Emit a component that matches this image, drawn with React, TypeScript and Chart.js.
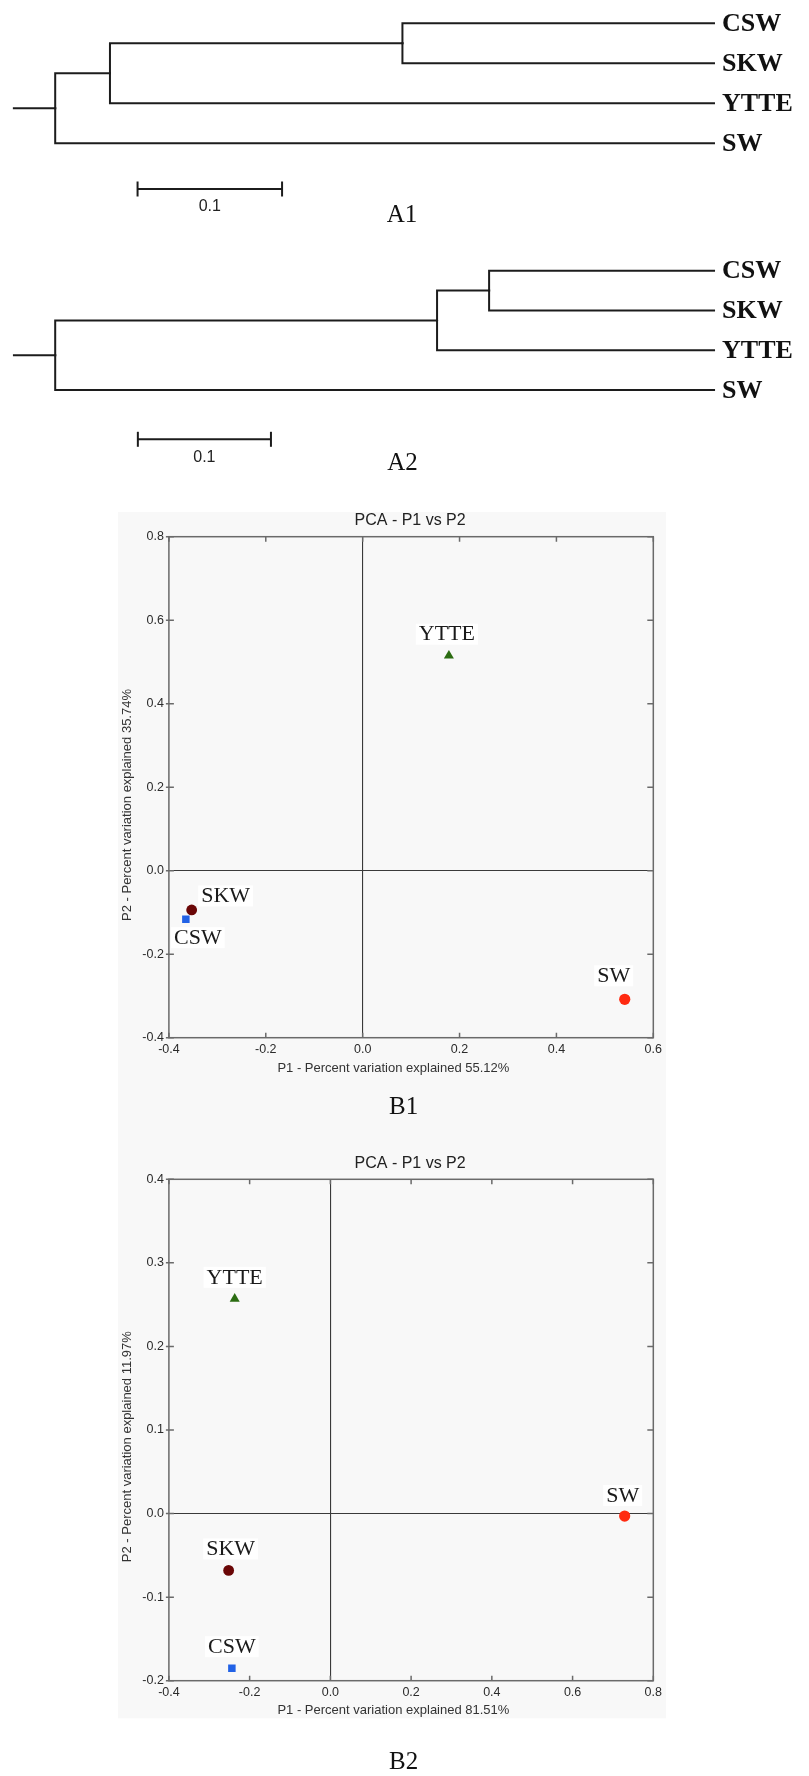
import React, { useEffect, useRef } from 'react';
import { Chart, registerables } from 'chart.js';

Chart.register(...registerables);

// ---------------- Data ----------------
// Dendrogram leaves (top to bottom) and merge order: (CSW,SKW) -> +YTTE -> +SW
const LEAVES = ['CSW', 'SKW', 'YTTE', 'SW'];
const MERGE_PAIRS: number[][] = [[0, 1], [4, 2], [5, 3]];
// depth of each merge node measured from the root (tree distance units)
const A1_MERGE_DEPTHS = [0.2403, 0.0379, 0];
const A1_LEAF_DEPTH = 0.4559;
const A2_MERGE_DEPTHS = [0.326, 0.2869, 0];
const A2_LEAF_DEPTH = 0.495;
const SCALE_BAR = 0.1;
const SCALE_BAR_TEXT = '0.1';

// PCA samples
const SAMPLES = ['YTTE', 'SKW', 'CSW', 'SW'];
const B1_PC1 = [0.178, -0.353, -0.365, 0.541];
const B1_PC2 = [0.515, -0.094, -0.116, -0.308];
const B2_PC1 = [-0.237, -0.252, -0.244, 0.729];
const B2_PC2 = [0.257, -0.068, -0.185, -0.003];
const B1_X_TICKS = ['-0.4', '-0.2', '0.0', '0.2', '0.4', '0.6'];
const B1_Y_TICKS = ['-0.4', '-0.2', '0.0', '0.2', '0.4', '0.6', '0.8'];
const B2_X_TICKS = ['-0.4', '-0.2', '0.0', '0.2', '0.4', '0.6', '0.8'];
const B2_Y_TICKS = ['-0.2', '-0.1', '0.0', '0.1', '0.2', '0.3', '0.4'];
const PCA_TITLE = 'PCA - P1 vs P2';
const B1_X_TITLE = 'P1 - Percent variation explained 55.12%';
const B1_Y_TITLE = 'P2 - Percent variation explained 35.74%';
const B2_X_TITLE = 'P1 - Percent variation explained 81.51%';
const B2_Y_TITLE = 'P2 - Percent variation explained 11.97%';

// ---------------- Styles / layout ----------------
const SERIF = '"Liberation Serif", "Times New Roman", serif';
const SANS = '"Liberation Sans", Arial, sans-serif';
const TREE_COLOR = '#1c1c1c';
const SAMPLE_STYLE: Record<string, { shape: string; color: string; r: number }> = {
  YTTE: { shape: 'triangle', color: '#2b6c12', r: 5.8 },
  SKW: { shape: 'circle', color: '#6a0606', r: 5.4 },
  CSW: { shape: 'rect', color: '#2262e6', r: 5.3 },
  SW: { shape: 'circle', color: '#ff2a10', r: 5.6 },
};
const B1_LABEL_OFFSETS = [[-2, -22], [34, -14.5], [12, 18], [-11, -24]];
const B2_LABEL_OFFSETS = [[0, -22], [2, -22], [0, -22], [-2, -21]];
const LEAF_LABEL_GAP = 8;

type TreeSpec = {
  depths: number[]; leafDepth: number; stub: number;
  xMin: number; xMax: number; yMin: number; yMax: number;
  barX: number; barY: number; panel: string; panelX: number; panelY: number;
};

const A1_SPEC: TreeSpec = {
  depths: A1_MERGE_DEPTHS, leafDepth: A1_LEAF_DEPTH, stub: -0.0286,
  xMin: -0.0382, xMax: -0.0382 + 809 / 1445, yMin: -0.5825, yMax: -0.5825 + 240 / 40,
  barX: 0.057, barY: 4.1425, panel: 'A1', panelX: 402, panelY: 215,
};
const A2_SPEC: TreeSpec = {
  depths: A2_MERGE_DEPTHS, leafDepth: A2_LEAF_DEPTH, stub: -0.031,
  xMin: -0.04147, xMax: -0.04147 + 809 / 1331, yMin: -0.7714, yMax: -0.7714 + 245 / 39.8,
  barX: 0.0621, barY: 4.236, panel: 'A2', panelX: 402.5, panelY: 223,
};

function treeConfig(s: TreeSpec): any {
  const n = LEAVES.length;
  const xs: number[] = [];
  const ys: number[] = [];
  const parent: number[] = [];
  LEAVES.forEach((_, i) => { xs[i] = s.leafDepth; ys[i] = i; });
  MERGE_PAIRS.forEach(([a, b], k) => {
    const id = n + k;
    xs[id] = s.depths[k];
    ys[id] = (ys[a] + ys[b]) / 2;
    parent[a] = id;
    parent[b] = id;
  });
  const rootId = n + MERGE_PAIRS.length - 1;
  const datasets: any[] = [];
  for (let id = 0; id <= rootId; id++) {
    let data;
    if (id === rootId) {
      data = [{ x: s.stub, y: ys[id] }, { x: xs[id], y: ys[id] }];
    } else {
      const p = parent[id];
      data = [{ x: xs[p], y: ys[p] }, { x: xs[p], y: ys[id] }, { x: xs[id], y: ys[id] }];
    }
    datasets.push({
      data, showLine: true, pointRadius: 0, borderColor: TREE_COLOR, borderWidth: 2,
      tension: 0, fill: false, borderCapStyle: 'square', borderJoinStyle: 'miter',
    });
  }
  datasets.push({
    data: [{ x: s.barX, y: s.barY }, { x: s.barX + SCALE_BAR, y: s.barY }],
    showLine: true, borderColor: TREE_COLOR, borderWidth: 2,
    pointStyle: 'line', pointRotation: 90, pointRadius: 7.5, pointHoverRadius: 7.5,
    pointBorderWidth: 2, pointBorderColor: TREE_COLOR, pointBackgroundColor: TREE_COLOR,
  });

  const labelPlugin = {
    id: 'treeLabels',
    afterDatasetsDraw(chart: any) {
      const ctx = chart.ctx;
      const X = chart.scales.x, Y = chart.scales.y;
      ctx.save();
      ctx.fillStyle = '#111';
      ctx.textBaseline = 'middle';
      ctx.textAlign = 'left';
      ctx.font = `bold 26px ${SERIF}`;
      LEAVES.forEach((name, i) => {
        ctx.fillText(name, X.getPixelForValue(s.leafDepth) + LEAF_LABEL_GAP, Y.getPixelForValue(i) + 1);
      });
      ctx.textAlign = 'center';
      ctx.font = `16px ${SANS}`;
      ctx.fillStyle = '#222';
      ctx.fillText(SCALE_BAR_TEXT, X.getPixelForValue(s.barX + SCALE_BAR / 2), Y.getPixelForValue(s.barY) + 18);
      ctx.font = `25px ${SERIF}`;
      ctx.fillStyle = '#111';
      ctx.fillText(s.panel, s.panelX, s.panelY);
      ctx.restore();
    },
  };

  return {
    type: 'scatter',
    data: { datasets },
    options: {
      responsive: false, animation: false, devicePixelRatio: 1,
      layout: { padding: 0, autoPadding: false },
      plugins: { legend: { display: false }, tooltip: { enabled: false }, title: { display: false } },
      events: [],
      scales: {
        x: { type: 'linear', display: false, min: s.xMin, max: s.xMax },
        y: { type: 'linear', display: false, min: s.yMin, max: s.yMax, reverse: true },
      },
    },
    plugins: [labelPlugin],
  };
}

type PcaSpec = {
  pc1: number[]; pc2: number[]; xTicks: string[]; yTicks: string[];
  xTitle: string; yTitle: string; panel: string; offsets: number[][];
  W: number; H: number; panelH: number;
  area: { left: number; top: number; right: number; bottom: number };
  titleY: number; xTitleX: number; xTitleY: number; yTitleX: number; yTitleY: number;
  panelX: number; panelY: number;
};

const B1_SPEC: PcaSpec = {
  pc1: B1_PC1, pc2: B1_PC2, xTicks: B1_X_TICKS, yTicks: B1_Y_TICKS,
  xTitle: B1_X_TITLE, yTitle: B1_Y_TITLE, panel: 'B1', offsets: B1_LABEL_OFFSETS,
  W: 548, H: 604, panelH: 604,
  area: { left: 50.9, top: 24.7, right: 537.4, bottom: 525.7 },
  titleY: 8.7, xTitleX: 275.4, xTitleY: 556.3, yTitleX: 9, yTitleY: 293,
  panelX: 285.6, panelY: 595,
};
const B2_SPEC: PcaSpec = {
  pc1: B2_PC1, pc2: B2_PC2, xTicks: B2_X_TICKS, yTicks: B2_Y_TICKS,
  xTitle: B2_X_TITLE, yTitle: B2_Y_TITLE, panel: 'B2', offsets: B2_LABEL_OFFSETS,
  W: 548, H: 660, panelH: 602.3,
  area: { left: 50.9, top: 63.3, right: 537.4, bottom: 564.7 },
  titleY: 47.3, xTitleX: 275.4, xTitleY: 594.7, yTitleX: 9, yTitleY: 330.7,
  panelX: 285.6, panelY: 646.7,
};

function tickText(labels: string[], v: number) {
  const hit = labels.find((l) => Math.abs(parseFloat(l) - v) < 1e-6);
  return hit !== undefined ? hit : '';
}

function pcaConfig(s: PcaSpec): any {
  const xv = s.xTicks.map(parseFloat);
  const yv = s.yTicks.map(parseFloat);
  const zeroColor = (c: any) => (Math.abs(c.tick.value) < 1e-9 ? '#3a3a3a' : 'rgba(0,0,0,0)');

  const datasets = SAMPLES.map((name, i) => {
    const st = SAMPLE_STYLE[name];
    return {
      label: name,
      data: [{ x: s.pc1[i], y: s.pc2[i] }],
      pointStyle: st.shape, pointRadius: st.r, pointHoverRadius: st.r,
      backgroundColor: st.color, borderColor: st.color, pointBorderWidth: 0,
    };
  });

  const deco = {
    id: 'pcaDeco',
    beforeDraw(chart: any) {
      const ctx = chart.ctx;
      ctx.save();
      ctx.fillStyle = '#f8f8f8';
      ctx.fillRect(0, 0, s.W, s.panelH);
      ctx.restore();
    },
    afterDatasetsDraw(chart: any) {
      const ctx = chart.ctx;
      const { left, top, right, bottom } = chart.chartArea;
      const X = chart.scales.x, Y = chart.scales.y;
      ctx.save();
      // frame + inward ticks
      ctx.strokeStyle = '#6a6a6a';
      ctx.lineWidth = 1.5;
      ctx.beginPath();
      X.ticks.forEach((t: any) => {
        const px = X.getPixelForValue(t.value);
        ctx.moveTo(px, top); ctx.lineTo(px, top + 5);
        ctx.moveTo(px, bottom); ctx.lineTo(px, bottom - 5);
      });
      Y.ticks.forEach((t: any) => {
        const py = Y.getPixelForValue(t.value);
        ctx.moveTo(left - 3, py); ctx.lineTo(left + 5, py);
        ctx.moveTo(right, py); ctx.lineTo(right - 6, py);
      });
      ctx.stroke();
      ctx.strokeRect(left, top, right - left, bottom - top);

      // point labels
      ctx.font = `22px ${SERIF}`;
      ctx.textAlign = 'center';
      ctx.textBaseline = 'middle';
      SAMPLES.forEach((name, i) => {
        const el = chart.getDatasetMeta(i).data[0];
        const lx = el.x + s.offsets[i][0];
        const ly = el.y + s.offsets[i][1];
        const w = ctx.measureText(name).width;
        ctx.fillStyle = '#ffffff';
        ctx.fillRect(lx - w / 2 - 3, ly - 10, w + 6, 21);
        ctx.fillStyle = '#1a1a1a';
        ctx.fillText(name, lx, ly + 1);
      });

      // titles
      ctx.fillStyle = '#222';
      ctx.font = `16px ${SANS}`;
      ctx.fillText(PCA_TITLE, (left + right) / 2 - 1, s.titleY);
      ctx.font = `13px ${SANS}`;
      ctx.fillStyle = '#333';
      ctx.fillText(s.xTitle, s.xTitleX, s.xTitleY);
      ctx.save();
      ctx.translate(s.yTitleX, s.yTitleY);
      ctx.rotate(-Math.PI / 2);
      ctx.fillText(s.yTitle, 0, 0);
      ctx.restore();
      ctx.font = `25px ${SERIF}`;
      ctx.fillStyle = '#111';
      ctx.fillText(s.panel, s.panelX, s.panelY);
      ctx.restore();
    },
  };

  return {
    type: 'scatter',
    data: { datasets },
    options: {
      responsive: false, animation: false, devicePixelRatio: 1, events: [],
      layout: { padding: { left: 0, top: s.area.top, right: s.W - s.area.right, bottom: 0 }, autoPadding: false },
      plugins: { legend: { display: false }, tooltip: { enabled: false }, title: { display: false } },
      scales: {
        x: {
          type: 'linear', min: xv[0], max: xv[xv.length - 1],
          ticks: {
            stepSize: xv[1] - xv[0], autoSkip: false, maxRotation: 0, padding: 4,
            color: '#2b2b2b', font: { family: SANS, size: 12.5 },
            callback: (v: any) => tickText(s.xTicks, Number(v)),
          },
          grid: { drawTicks: false, color: zeroColor, lineWidth: 1.1 },
          border: { display: false },
          afterFit: (sc: any) => { sc.height = s.H - s.area.bottom; },
        },
        y: {
          type: 'linear', min: yv[0], max: yv[yv.length - 1],
          ticks: {
            stepSize: yv[1] - yv[0], autoSkip: false, padding: 5,
            color: '#2b2b2b', font: { family: SANS, size: 12.5 },
            callback: (v: any) => tickText(s.yTicks, Number(v)),
          },
          grid: { drawTicks: false, color: zeroColor, lineWidth: 1.1 },
          border: { display: false },
          afterFit: (sc: any) => { sc.width = s.area.left; },
        },
      },
    },
    plugins: [deco],
  };
}

function ChartCanvas(props: { make: () => any; left: number; top: number; width: number; height: number }) {
  const ref = useRef<HTMLCanvasElement | null>(null);
  useEffect(() => {
    const chart = new Chart(ref.current as HTMLCanvasElement, props.make());
    return () => chart.destroy();
  }, []);
  const { left, top, width, height } = props;
  return (
    <canvas
      ref={ref}
      width={width}
      height={height}
      style={{ position: 'absolute', left, top, width, height, display: 'block' }}
    />
  );
}

export default function App() {
  return (
    <div style={{ position: 'absolute', left: 0, top: 0, width: 809, height: 1776, background: '#ffffff', overflow: 'hidden' }}>
      <ChartCanvas make={() => treeConfig(A1_SPEC)} left={0} top={0} width={809} height={240} />
      <ChartCanvas make={() => treeConfig(A2_SPEC)} left={0} top={240} width={809} height={245} />
      <ChartCanvas make={() => pcaConfig(B1_SPEC)} left={118} top={512} width={548} height={604} />
      <ChartCanvas make={() => pcaConfig(B2_SPEC)} left={118} top={1116} width={548} height={660} />
    </div>
  );
}
